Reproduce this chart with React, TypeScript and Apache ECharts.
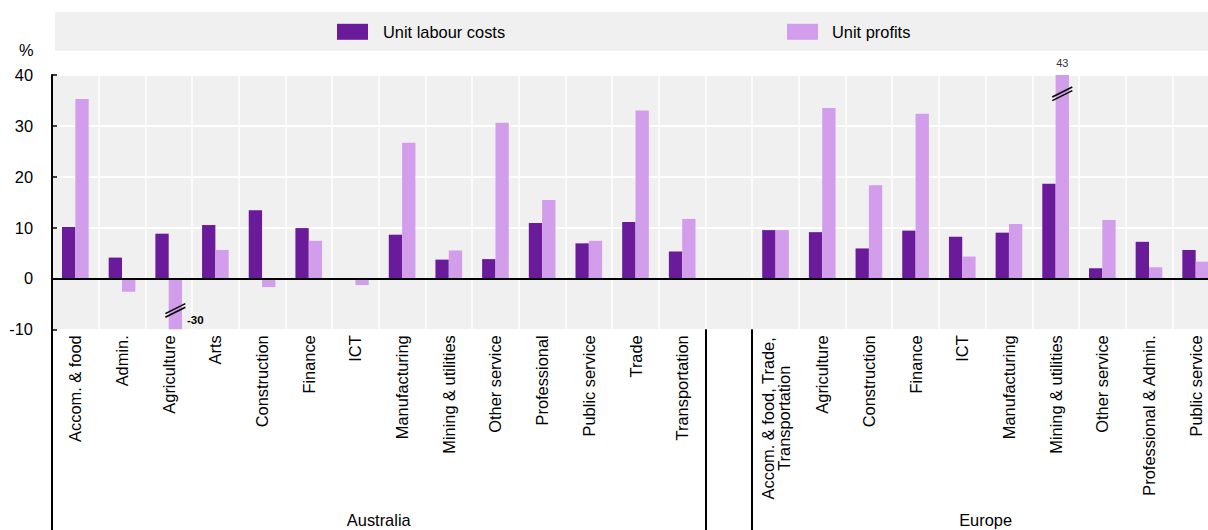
import React, { useEffect, useRef } from "react";
import * as echarts from "echarts";

// ---------- data ----------
const australiaSectors = [
  "Accom. & food", "Admin.", "Agriculture", "Arts", "Construction", "Finance", "ICT",
  "Manufacturing", "Mining & utilities", "Other service", "Professional", "Public service",
  "Trade", "Transportation",
];
const europeSectors = [
  "Accom. & food, Trade,\nTransportation", "Agriculture", "Construction", "Finance", "ICT",
  "Manufacturing", "Mining & utilities", "Other service", "Professional & Admin.", "Public service",
];
const australiaLabour = [10.1, 4.1, 8.8, 10.5, 13.4, 9.9, null, 8.6, 3.7, 3.8, 10.9, 6.9, 11.1, 5.3];
const australiaProfits = [35.3, -2.6, -30, 5.6, -1.7, 7.4, -1.3, 26.7, 5.5, 30.6, 15.4, 7.4, 33.0, 11.7];
const europeLabour = [9.5, 9.1, 5.9, 9.4, 8.2, 9.0, 18.6, 2.0, 7.2, 5.6];
const europeProfits = [9.5, 33.5, 18.3, 32.4, 4.3, 10.7, 43, 11.5, 2.2, 3.3];
const groupNames = ["Australia", "Europe"];
const seriesNames = ["Unit labour costs", "Unit profits"];
const yMin = -10;
const yMax = 40;
const yStep = 10;

// ---------- derived ----------
const categories = [...australiaSectors, "", ...europeSectors];
const labour = [...australiaLabour, null, ...europeLabour];
const profits = [...australiaProfits, null, ...europeProfits];
const nA = australiaSectors.length;
const nE = europeSectors.length;
const nTotal = categories.length;
const groupBounds = [0, nA, nA + 1, nTotal];
const groupCenters = [nA / 2, nA + 1 + nE / 2];

const breaks: [number, number, number][] = [];
[labour, profits].forEach((arr, s) =>
  arr.forEach((v, i) => {
    if (v != null && (v > yMax || v < yMin)) breaks.push([i, v as number, s]);
  })
);

// ---------- style ----------
const FONT = "'Liberation Sans', Arial, sans-serif";
const FS = 16.4;
const DARK = "#6a1b9a";
const LIGHT = "#d29eec";
const BAR_W = 13.33;
const BREAK_INSET = 3.7;
const CHART_W = 1219; // plot runs slightly past the visible frame, as in the reference

export default function App() {
  const ref = useRef<HTMLDivElement>(null);

  useEffect(() => {
    if (!ref.current) return;
    const chart = echarts.init(ref.current, undefined, { renderer: "svg" });

    const legendBase = {
      top: 23.8,
      padding: 0,
      icon: "rect",
      itemWidth: 31,
      itemHeight: 16,
      selectedMode: false,
    };

    const option: any = {
      animation: false,
      textStyle: { fontFamily: FONT, color: "#000" },
      graphic: [
        {
          type: "rect",
          z: -1,
          shape: { x: 55, y: 12, width: 1170, height: 39 },
          style: { fill: "#f0f0f0" },
          silent: true,
        },
        {
          type: "text",
          style: {
            text: "%",
            x: 33.5,
            y: 50,
            textAlign: "right",
            textVerticalAlign: "middle",
            align: "right",
            verticalAlign: "middle",
            fontSize: FS,
            fontFamily: FONT,
            fill: "#000",
          },
        },
      ],
      legend: [
        {
          ...legendBase,
          data: [seriesNames[0]],
          left: 337,
          textStyle: { fontSize: FS, fontFamily: FONT, color: "#000", padding: [0, 0, 0, 10] },
        },
        {
          ...legendBase,
          data: [seriesNames[1]],
          left: 787,
          textStyle: { fontSize: FS, fontFamily: FONT, color: "#000", padding: [0, 0, 0, 9] },
        },
      ],
      grid: {
        left: 52,
        right: 0,
        top: 75,
        bottom: 200.7,
        show: true,
        backgroundColor: "#f0f0f0",
        borderWidth: 0,
      },
      xAxis: [
        {
          type: "category",
          data: categories,
          position: "bottom",
          axisLine: { show: false, onZero: false },
          axisTick: { show: false },
          splitLine: { show: true, interval: 0, lineStyle: { color: "#ffffff", width: 1.5 } },
          axisLabel: {
            interval: 0,
            rotate: 90,
            margin: 6,
            fontSize: FS,
            fontFamily: FONT,
            color: "#000",
            formatter: (v: string) =>
              v.includes("\n") ? v.split("\n").map((l) => `{w|${l}}`).join("\n") : v,
            rich: {
              w: { width: 166, align: "center", fontSize: FS, lineHeight: 16, fontFamily: FONT, color: "#000" },
            },
          },
        },
        {
          type: "value",
          min: 0,
          max: nTotal,
          position: "bottom",
          axisLine: { show: false, onZero: false },
          splitLine: { show: false },
          axisTick: {
            show: true,
            customValues: groupBounds,
            length: 201,
            inside: false,
            lineStyle: { color: "#000", width: 2 },
          },
          axisLabel: {
            customValues: groupCenters,
            margin: 183,
            fontSize: FS,
            fontFamily: FONT,
            color: "#000",
            formatter: (v: number) => {
              const k = groupCenters.indexOf(v);
              return k >= 0 ? groupNames[k] : "";
            },
          },
        },
      ],
      yAxis: {
        type: "value",
        min: yMin,
        max: yMax,
        interval: yStep,
        axisLine: { show: true, lineStyle: { color: "#000", width: 2 } },
        axisTick: { show: true, inside: true, length: 5, lineStyle: { color: "#000", width: 1.5 } },
        axisLabel: { fontSize: FS, fontFamily: FONT, color: "#000", margin: 19 },
        splitLine: { show: true, lineStyle: { color: "#ffffff", width: 2 } },
      },
      series: [
        {
          name: seriesNames[0],
          type: "bar",
          data: labour,
          barWidth: BAR_W,
          barGap: "0%",
          itemStyle: { color: DARK },
          clip: true,
          z: 2,
          markLine: {
            silent: true,
            symbol: "none",
            label: { show: false },
            lineStyle: { color: "#000", width: 2, type: "solid" },
            data: [{ yAxis: 0 }],
            z: 5,
          },
        },
        {
          name: seriesNames[1],
          type: "bar",
          data: profits,
          barWidth: BAR_W,
          barGap: "0%",
          itemStyle: { color: LIGHT },
          clip: true,
          z: 2,
        },
        {
          type: "custom",
          name: "breaks",
          data: breaks,
          z: 10,
          clip: false,
          renderItem: (params: any, api: any) => {
            const i = api.value(0);
            const v = api.value(1);
            const s = api.value(2);
            const over = v > yMax;
            const edge = api.coord([i, over ? yMax : yMin]);
            const bx = edge[0] + (s === 0 ? -BAR_W / 2 : BAR_W / 2);
            const my = api.coord([i, over ? yMax - BREAK_INSET : yMin + BREAK_INSET])[1];
            const lines = [-1.8, 1.8].map((d) => ({
              type: "line",
              shape: { x1: bx - 10, y1: my + d + 5, x2: bx + 10, y2: my + d - 5 },
              style: { stroke: "#000", lineWidth: 1.5 },
            }));
            const label = over
              ? {
                  type: "text",
                  style: {
                    text: String(v),
                    x: bx,
                    y: edge[1] - 12,
                    textAlign: "center",
                    textVerticalAlign: "middle",
                    align: "center",
                    verticalAlign: "middle",
                    fontSize: 11,
                    fontFamily: FONT,
                    fill: "#333",
                  },
                }
              : {
                  type: "text",
                  style: {
                    text: String(v),
                    x: bx + BAR_W / 2 + 5,
                    y: edge[1] - 9,
                    textAlign: "left",
                    textVerticalAlign: "middle",
                    align: "left",
                    verticalAlign: "middle",
                    fontSize: 11.5,
                    fontWeight: "bold",
                    fontFamily: FONT,
                    fill: "#000",
                  },
                };
            return { type: "group", children: [...lines, label] };
          },
        },
      ],
    };

    chart.setOption(option);
    return () => chart.dispose();
  }, []);

  return (
    <div
      style={{
        position: "fixed",
        left: 0,
        top: 0,
        width: 1208,
        height: 530,
        overflow: "hidden",
        background: "#fff",
      }}
    >
      <div ref={ref} style={{ width: CHART_W, height: 530 }} />
    </div>
  );
}
